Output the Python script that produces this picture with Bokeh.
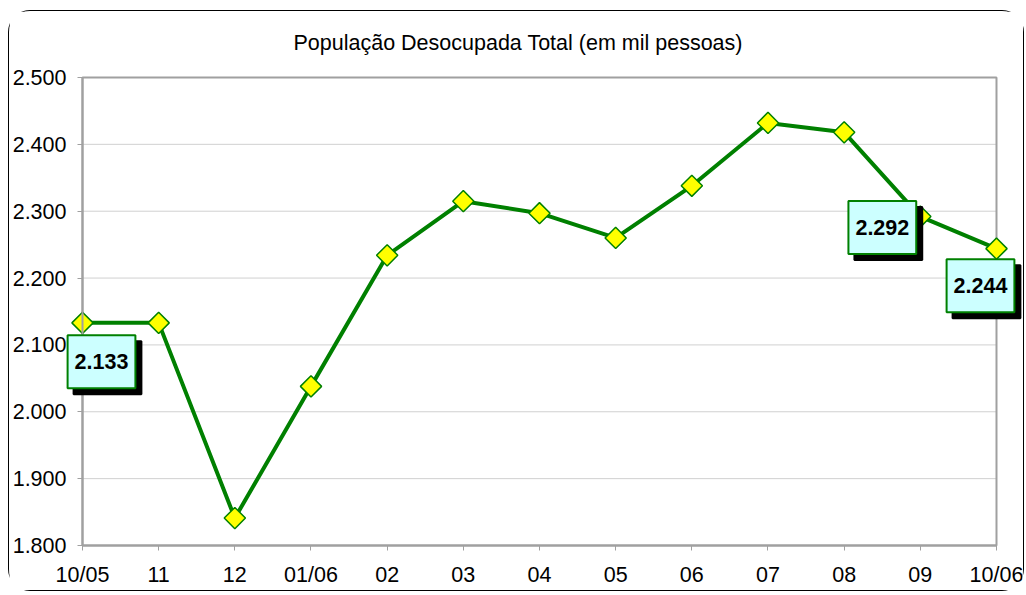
import numpy as np
from bokeh.plotting import figure
from bokeh.models import Range1d, FixedTicker, Label, ColumnDataSource
from bokeh.embed import file_html
from bokeh.resources import INLINE

# ---- data ----
months = ["10/05", "11", "12", "01/06", "02", "03", "04", "05", "06", "07", "08", "09", "10/06"]
values = [2133, 2133, 1841, 2038, 2234, 2315, 2297, 2260, 2338, 2432, 2418, 2292, 2244]
y_ticks = [1800, 1900, 2000, 2100, 2200, 2300, 2400, 2500]
y_tick_labels = ["1.800", "1.900", "2.000", "2.100", "2.200", "2.300", "2.400", "2.500"]
labeled_points = [0, 11, 12]
title_text = "População Desocupada Total (em mil pessoas)"

# label box offsets (screen px) relative to their point
label_offsets = {0: (19, -39), 11: (-38, -11), 12: (-16, -37)}

FONT = "Liberation Sans"
FS = "21.5px"
GREEN = "#008000"
GRAY = "#a0a0a0"

xs = list(range(len(months)))
x_first, x_last = xs[0], xs[-1]
y_lo, y_hi = y_ticks[0], y_ticks[-1]
src = ColumnDataSource(dict(x=xs, y=values))

# The frame is larger than the plot area so that the tick labels and data labels
# (drawn by axes fixed at the plot-area edges) are not clipped.
p = figure(width=1016, height=581, output_backend="svg", toolbar_location=None,
           x_range=Range1d(x_first - 0.9584, x_last + 0.3414),
           y_range=Range1d(y_lo - 70.3, y_hi + 22.4),
           min_border_left=0, min_border_right=3, min_border_top=51, min_border_bottom=0,
           background_fill_color="white", border_fill_color="white",
           styles={"border": "1px solid black", "border-radius": "22px",
                   "margin-left": "8px", "margin-top": "10px"})

p.outline_line_color = None

# title
p.title.text = title_text
p.title.align = "left"
p.title.offset = 284
p.title.text_font = FONT
p.title.text_font_size = FS
p.title.text_font_style = "normal"
p.title.text_color = "black"
p.title.standoff = 16

# axes
p.xaxis.ticker = FixedTicker(ticks=xs)
p.xaxis.major_label_overrides = {i: m for i, m in enumerate(months)}
p.xaxis.bounds = (x_first, x_last)
p.xaxis.fixed_location = y_lo
p.yaxis.ticker = FixedTicker(ticks=y_ticks)
p.yaxis.major_label_overrides = {t: l for t, l in zip(y_ticks, y_tick_labels)}
p.yaxis.bounds = (y_lo, y_hi)
p.yaxis.fixed_location = x_first
for ax in (p.xaxis[0], p.yaxis[0]):
    ax.axis_line_color = GRAY
    ax.axis_line_width = 2
    ax.major_tick_line_color = GRAY
    ax.major_tick_line_width = 1
    ax.major_tick_out = 5
    ax.major_tick_in = 0
    ax.minor_tick_line_color = None
    ax.major_label_text_font = FONT
    ax.major_label_text_font_size = FS
    ax.major_label_text_color = "black"
p.yaxis.major_label_standoff = 11
p.xaxis.major_label_standoff = 13

p.xgrid.visible = False
p.ygrid.visible = False

# horizontal gridlines limited to the plot area
inner = y_ticks[1:-1]
p.segment(x0=[x_first] * len(inner), x1=[x_last] * len(inner), y0=inner, y1=inner,
          line_color="#d0d0d0", line_width=1)
# plot area outline
p.quad(left=[x_first], right=[x_last], bottom=[y_lo], top=[y_hi],
       fill_color=None, line_color=GRAY, line_width=2)

# series
p.line("x", "y", source=src, line_color=GREEN, line_width=4)
p.scatter("x", "y", source=src, marker="square", size=15, angle=np.pi / 4,
          fill_color="#ffff00", line_color=GREEN, line_width=1.5)

# data labels with drop shadow
pad = dict(left=7, right=7, top=19, bottom=19)
for i in labeled_points:
    xo, yo = label_offsets[i]
    txt = f"{values[i] / 1000:.3f}"
    shadow = Label(x=xs[i], y=values[i], text=txt, x_offset=xo + 6, y_offset=yo - 6,
                   text_align="center", text_baseline="middle",
                   text_font=FONT, text_font_size=FS, text_font_style="bold",
                   text_color="black", background_fill_color="black",
                   border_line_color="black", border_line_width=2, padding=pad)
    box = Label(x=xs[i], y=values[i], text=txt, x_offset=xo, y_offset=yo,
                text_align="center", text_baseline="middle",
                text_font=FONT, text_font_size=FS, text_font_style="bold",
                text_color="black", background_fill_color="#ccffff",
                border_line_color=GREEN, border_line_width=2, padding=pad)
    p.add_layout(shadow)
    p.add_layout(box)

open("out.html", "w").write(file_html(p, INLINE))
